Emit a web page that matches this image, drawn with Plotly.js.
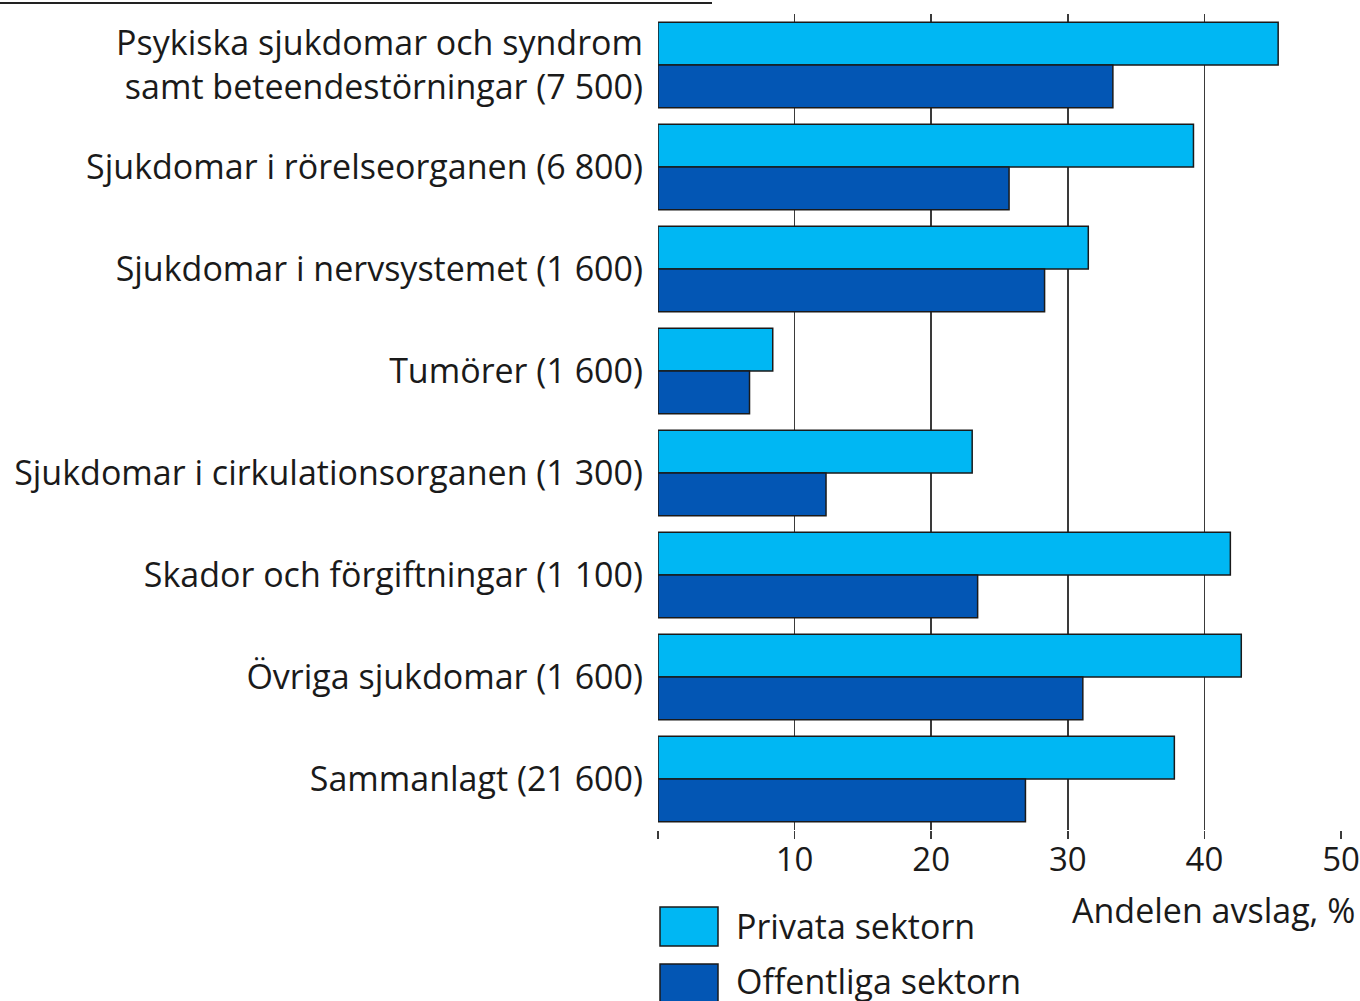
<!DOCTYPE html>
<html>
<head>
<meta charset="utf-8">
<script src="https://cdn.plot.ly/plotly-3.0.1.min.js"></script>
<style>
html,body{margin:0;padding:0;background:#fff;}
#chart{width:1360px;height:1001px;}
</style>
</head>
<body>
<div id="chart"></div>
<script>
const categories = [
  "Psykiska sjukdomar och syndrom<br>samt beteendestörningar (7 500)",
  "Sjukdomar i rörelseorganen (6 800)",
  "Sjukdomar i nervsystemet (1 600)",
  "Tumörer (1 600)",
  "Sjukdomar i cirkulationsorganen (1 300)",
  "Skador och förgiftningar (1 100)",
  "Övriga sjukdomar (1 600)",
  "Sammanlagt (21 600)"
];
const privateName = "Privata sektorn";
const publicName = "Offentliga sektorn";
const privateValues = [45.4, 39.2, 31.5, 8.4, 23.0, 41.9, 42.7, 37.8];
const publicValues  = [33.3, 25.7, 28.3, 6.7, 12.3, 23.4, 31.1, 26.9];
const xTickVals = [0, 10, 20, 30, 40, 50];
const xTickText = ["", "10", "20", "30", "40", "50"];
const xTitle = "Andelen avslag, %";

const privateColor = "#00B7F3";
const publicColor = "#0356B4";
const FONT = "'Open Sans', sans-serif";
const FS = 34;

const traces = [
  {type: "bar", orientation: "h", name: privateName, y: categories, x: privateValues,
   marker: {color: privateColor, line: {color: "#1a1a1a", width: 1.5}}, showlegend: false, hoverinfo: "x+y"},
  {type: "bar", orientation: "h", name: publicName, y: categories, x: publicValues,
   marker: {color: publicColor, line: {color: "#1a1a1a", width: 1.5}}, showlegend: false, hoverinfo: "x+y"}
];

const W = 1360, H = 1001;
const L = 658, R = 19, T = 14, B = 171;
const pw = W - L - R, ph = H - T - B;
function px2x(p){ return (p - L) / pw; }
function py2y(p){ return (H - B - p) / ph; }

const legendItems = [
  {name: privateName, color: privateColor, top: 907, ty: 926},
  {name: publicName, color: publicColor, top: 964, ty: 981}
];

const shapes = [];
const annotations = [];
legendItems.forEach(it => {
  shapes.push({type: "rect", xref: "paper", yref: "paper",
    x0: px2x(660), x1: px2x(718), y0: py2y(it.top + 39), y1: py2y(it.top),
    fillcolor: it.color, line: {color: "#1a1a1a", width: 1.5}});
  annotations.push({xref: "paper", yref: "paper", x: px2x(734), y: py2y(it.ty),
    xanchor: "left", yanchor: "middle", showarrow: false, text: it.name,
    font: {family: FONT, size: FS, color: "#1a1a1a"}});
});
annotations.push({xref: "paper", yref: "paper", x: px2x(1357), y: py2y(910),
  xanchor: "right", yanchor: "middle", showarrow: false, text: xTitle,
  font: {family: FONT, size: FS, color: "#1a1a1a"}});
// clipped heading underline at the top edge
shapes.push({type: "line", xref: "paper", yref: "paper",
  x0: px2x(0), x1: px2x(712), y0: py2y(3), y1: py2y(3), line: {color: "#222", width: 2}});

const layout = {
  width: W, height: H,
  margin: {l: L, r: R, t: T, b: B, pad: 0},
  paper_bgcolor: "#fff", plot_bgcolor: "#fff",
  barmode: "group", bargap: 0.16, bargroupgap: 0,
  font: {family: FONT, size: FS, color: "#1a1a1a"},
  xaxis: {range: [0, 50], tickvals: xTickVals, ticktext: xTickText,
    showgrid: true, gridcolor: "#3a3a3a", gridwidth: 1.5, zeroline: false,
    showline: false, ticks: "outside", ticklen: 8, tickcolor: "#3a3a3a", tickwidth: 1.5,
    ticklabelstandoff: -8,
    tickfont: {family: FONT, size: 33, color: "#1a1a1a"}, fixedrange: true},
  yaxis: {autorange: "reversed", showgrid: false, zeroline: false, showline: false,
    ticks: "", ticklabelstandoff: 14,
    tickfont: {family: FONT, size: FS, color: "#1a1a1a"}},
  shapes: shapes, annotations: annotations, showlegend: false
};

Plotly.newPlot("chart", traces, layout, {displayModeBar: false, staticPlot: true});
</script>
</body>
</html>
